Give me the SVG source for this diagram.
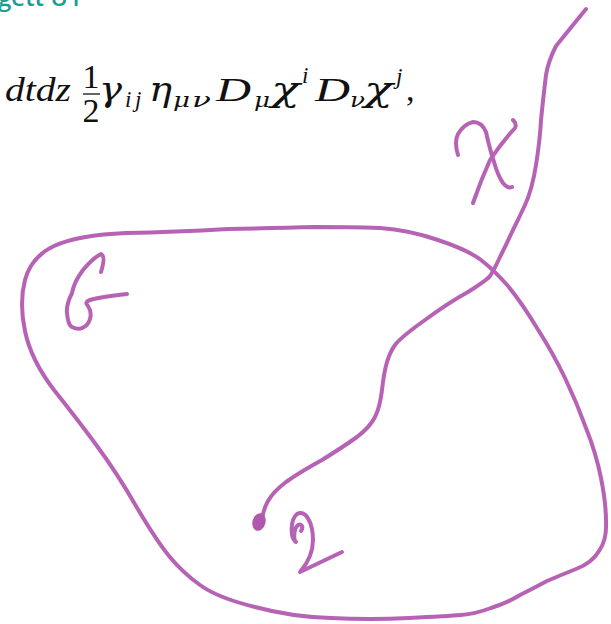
<svg xmlns="http://www.w3.org/2000/svg" width="611" height="624" viewBox="0 0 611 624">
<style>
.ink{fill:none;stroke:#b763b5;stroke-width:4;stroke-linecap:round;stroke-linejoin:round}
.m{font-family:"Liberation Serif","DejaVu Serif",serif;font-style:italic;fill:#111}
.g{font-family:"DejaVu Serif","Liberation Serif",serif;font-style:italic;fill:#111}
.big{font-size:34px}
.sub{font-size:23px}
.gs{font-size:21px}
.up{font-style:normal}
.hdr{font-family:"Open Sans","Liberation Sans",sans-serif;font-weight:600;font-size:24px;fill:#199e92}
</style>
<rect width="611" height="624" fill="#ffffff"/>
<text class="hdr" x="-2" y="6">gett U1</text>
<g id="formula">
<text class="m big" x="5" y="101" textLength="66" lengthAdjust="spacingAndGlyphs">dtdz</text>
<text class="m big up" x="91" y="88" text-anchor="middle">1</text>
<line x1="83" y1="94" x2="100" y2="94" stroke="#111" stroke-width="1.3"/>
<text class="m big up" x="91" y="122" text-anchor="middle">2</text>
<text class="g big" x="99" y="101" textLength="23" lengthAdjust="spacingAndGlyphs">γ</text>
<text class="m sub" x="125" y="107">i</text>
<text class="m sub" x="135" y="107">j</text>
<text class="g big" x="149" y="101" textLength="23" lengthAdjust="spacingAndGlyphs">η</text>
<text class="g gs" x="173" y="107" textLength="17" lengthAdjust="spacingAndGlyphs">μ</text>
<text class="g gs" x="192" y="107" textLength="19" lengthAdjust="spacingAndGlyphs">ν</text>
<text class="m big" x="216" y="101" textLength="35" lengthAdjust="spacingAndGlyphs">D</text>
<text class="g gs" x="254" y="107" textLength="16" lengthAdjust="spacingAndGlyphs">μ</text>
<text class="g big" x="271" y="101" textLength="29" lengthAdjust="spacingAndGlyphs">χ</text>
<text class="m sub" x="302" y="83">i</text>
<text class="m big" x="315" y="101" textLength="35" lengthAdjust="spacingAndGlyphs">D</text>
<text class="g gs" x="350" y="107" textLength="15" lengthAdjust="spacingAndGlyphs">ν</text>
<text class="g big" x="364" y="101" textLength="29" lengthAdjust="spacingAndGlyphs">χ</text>
<text class="m sub" x="396" y="84">j</text>
<text class="m big up" x="406" y="101">,</text>
</g>
<g id="region-G">
<path class="ink" d="M 228 229 Q 281 228 315 227 Q 350 227 380 228 Q 409 230 438 240 Q 468 250 481 260 Q 494 270 508 286 Q 522 303 537 328 Q 553 353 565 378 Q 577 403 586 428 Q 596 453 601 478 Q 606 503 606 521 Q 607 540 599 551 Q 592 563 576 569 Q 561 575 547 581 Q 534 588 520 595 Q 507 603 491 608 Q 475 614 461 615 Q 448 616 409 618 Q 370 620 331 618 Q 292 617 255 607 Q 218 598 200 585 Q 183 573 169 556 Q 156 540 136 506 Q 117 473 97 446 Q 78 420 54 390 Q 31 360 25 331 Q 19 303 25 280 Q 31 257 54 246 Q 78 235 126 233 Q 175 232 228 229 Z"/>
<path class="ink" d="M 101 272 Q 106 256 101 254 Q 93 258 83 270 Q 74 282 72 293 Q 66 305 67 313 Q 68 325 72 327 Q 78 330 82 328 Q 88 326 90 319 Q 92 312 88 306 Q 84 302 90 300 Q 100 297 127 294"/>
</g>
<g id="path-chi">
<path class="ink" d="M 586 9 L 556 46 Q 548 62 546 75 Q 543 100 541 120 Q 540 140 536 165 Q 532 190 525 205 Q 518 220 512 232 Q 507 243 500 257 Q 494 270 490 276 Q 487 280 468 292 Q 448 303 425 320 Q 401 337 395 345 Q 390 352 387 362 Q 384 372 382 390 Q 380 407 375 417 Q 370 427 357 437 Q 343 447 322 460 Q 300 472 286 482 Q 273 492 268 501 Q 263 510 262 520"/>
<ellipse cx="259" cy="522" rx="6.5" ry="9" transform="rotate(15 259 522)" fill="#b058ae"/>
<path class="ink" d="M 458 155 Q 454 142 458 134 Q 464 124 473 122 Q 482 122 486 132 Q 490 150 494 162 Q 498 176 503 183 Q 508 189 512 187"/>
<path class="ink" d="M 513 120 Q 517 124 515 128 Q 502 142 490 160 Q 481 180 473 203"/>
</g>
<g id="label-2">
<path class="ink" d="M 301 531 C 304 527 301 522 297 526 C 293 531 294 542 296 542 C 290 538 290 520 297 514 C 305 509 313 522 313 540 C 313 555 306 565 300 572 L 342 552"/>
</g>
</svg>
